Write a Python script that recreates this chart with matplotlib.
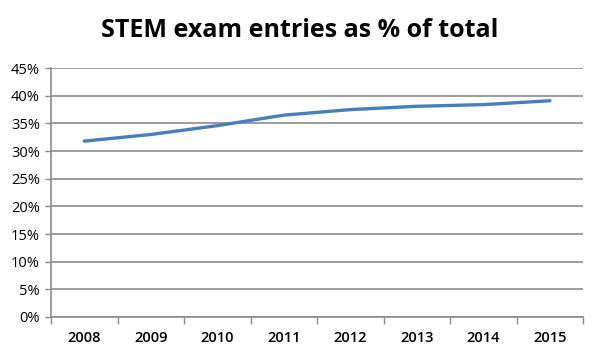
import numpy as np
import matplotlib.pyplot as plt

# STEM exam entries as share of total entries
years = ['2008', '2009', '2010', '2011', '2012', '2013', '2014', '2015']
stem_pct = [31.8, 33.0, 34.6, 36.5, 37.5, 38.1, 38.4, 39.1]
y_ticks = [0, 5, 10, 15, 20, 25, 30, 35, 40, 45]

fig = plt.figure(figsize=(6, 3.53), dpi=100)
ax = fig.add_axes([0.085, 0.102, 0.887, 0.705])

x = np.arange(len(years))
ax.plot(x, stem_pct, color='#4a7ebb', lw=2.4, solid_capstyle='round')

ax.set_xlim(-0.5, len(years) - 0.5)
ax.set_ylim(0, 45)
ax.set_yticks(y_ticks)
ax.set_yticklabels([f'{v}%' for v in y_ticks], fontsize=10.5, family='Open Sans')
ax.set_xticks(x)
ax.set_xticklabels(years, fontsize=10.5, family='Open Sans', fontweight='semibold')
ax.set_xticks(np.arange(-0.5, len(years)), minor=True)

ax.grid(axis='y', color='#8c8c8c', lw=1.2)
ax.set_axisbelow(True)
for side in ['top', 'right']:
    ax.spines[side].set_visible(False)
for side in ['left', 'bottom']:
    ax.spines[side].set_color('#8c8c8c')
    ax.spines[side].set_linewidth(1.2)

ax.tick_params(axis='x', which='major', length=0, pad=10)
ax.tick_params(axis='x', which='minor', length=5, color='#8c8c8c', width=1)
ax.tick_params(axis='y', length=4, color='#8c8c8c', width=1, pad=4)

fig.text(0.5, 0.915, 'STEM exam entries as % of total', ha='center', va='center',
         fontsize=18, fontweight='bold', family='Open Sans')

fig.savefig('out.png', dpi=100)
